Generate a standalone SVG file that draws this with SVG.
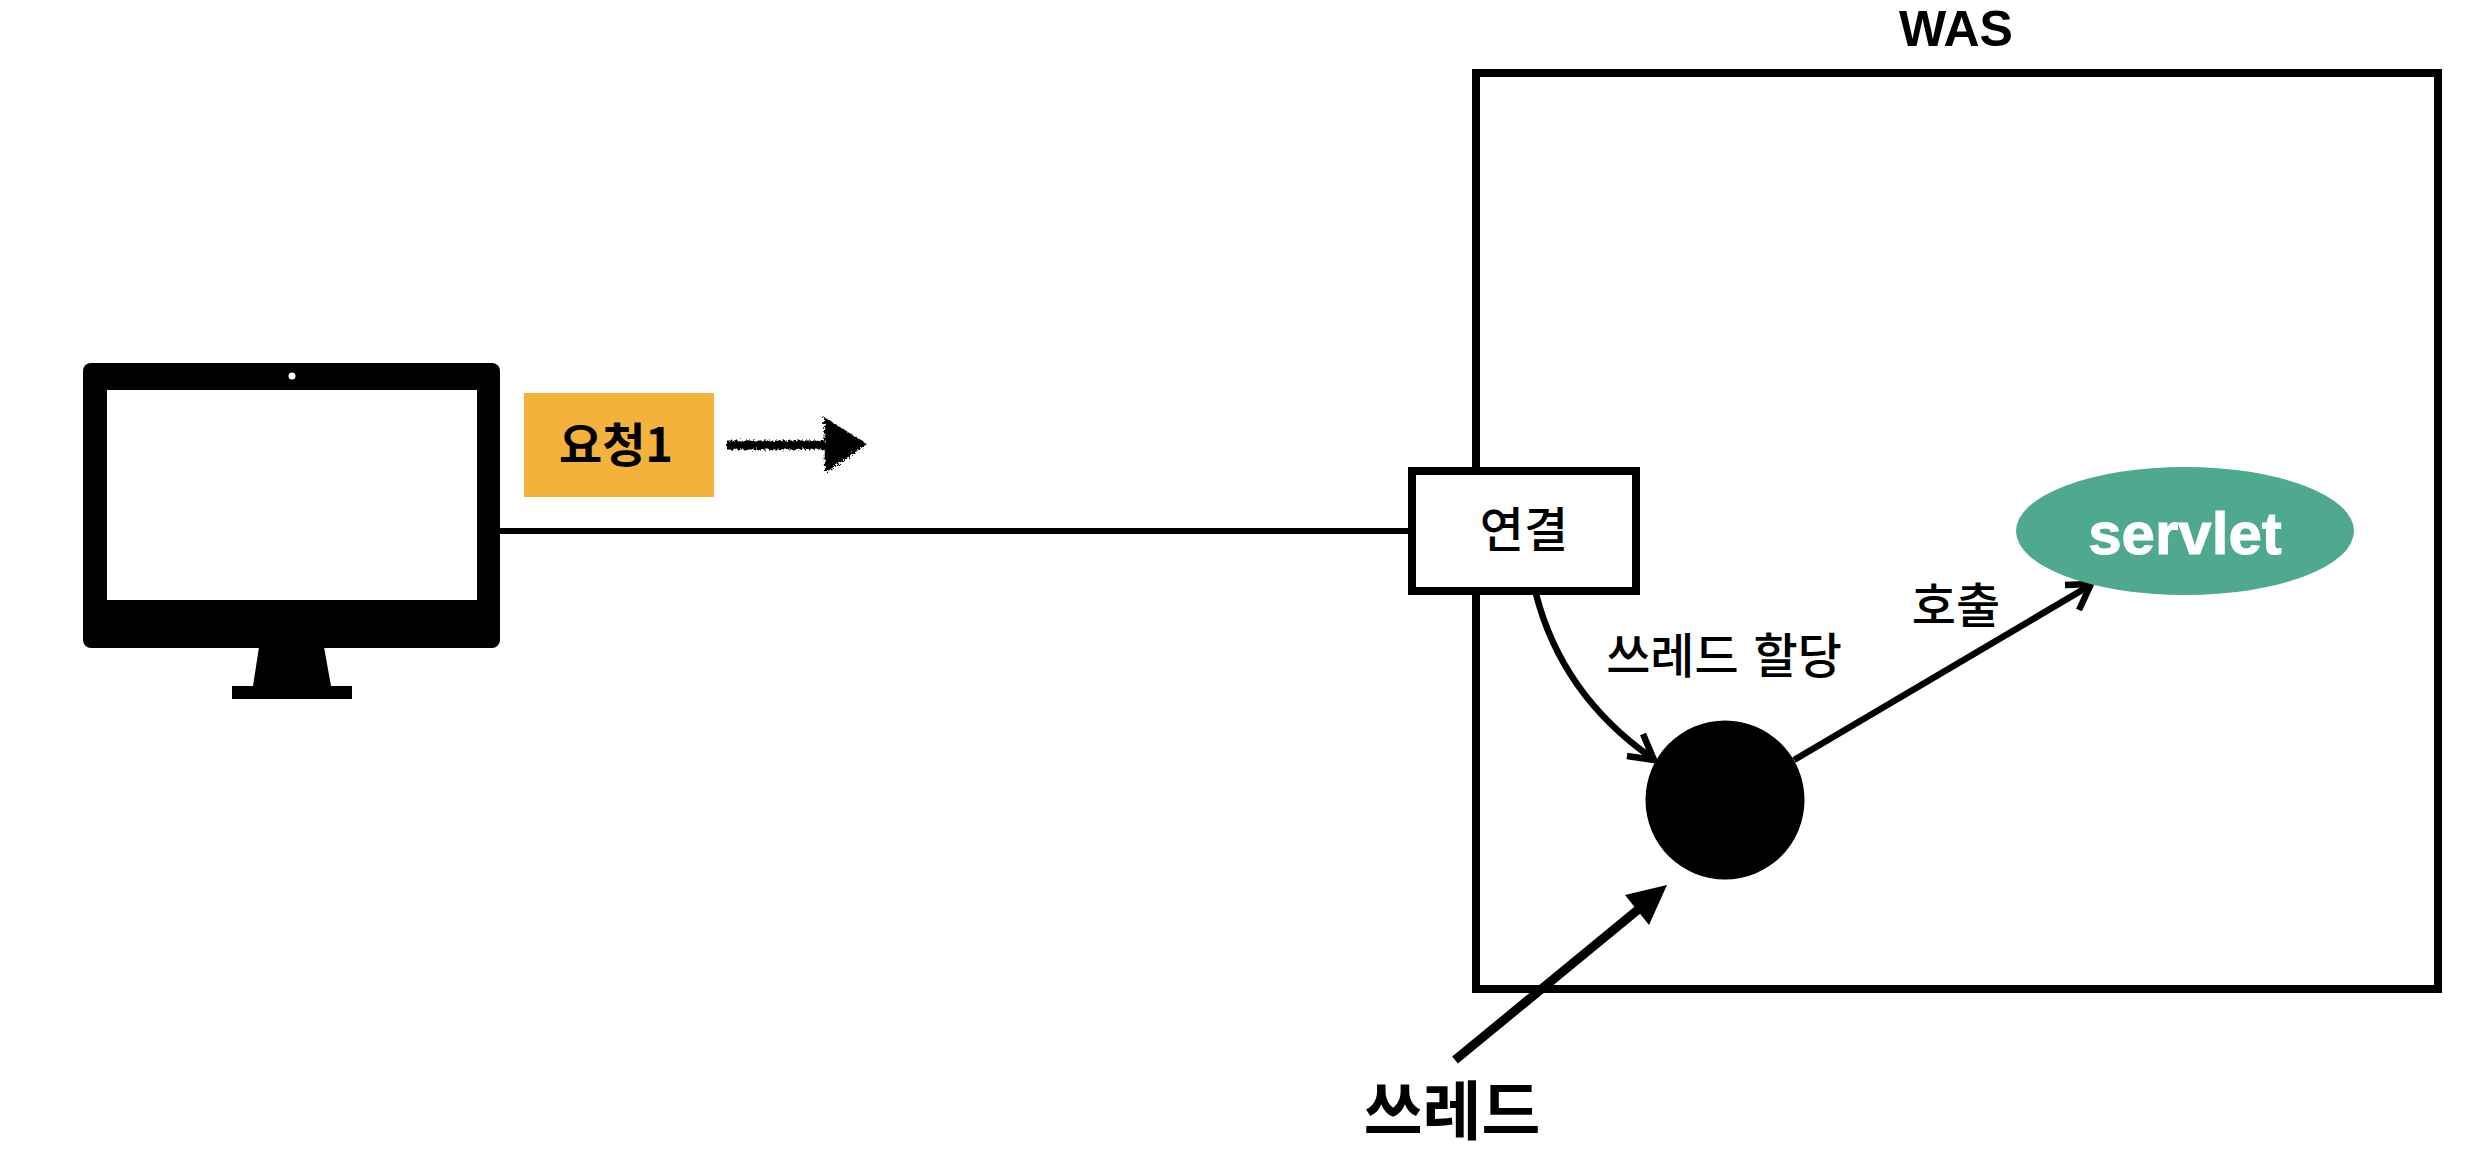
<svg xmlns="http://www.w3.org/2000/svg" width="2474" height="1176" viewBox="0 0 2474 1176">
<style>
text{font-family:"Liberation Sans","Noto Sans CJK KR",sans-serif;text-anchor:middle;fill:#000}
.ko{font-family:"Noto Sans CJK KR","Liberation Sans",sans-serif;font-size:48px;font-weight:500}
.b{font-weight:700}
.ln{fill:none;stroke:#000}
</style>
<defs>
<filter id="rough" x="-10%" y="-20%" width="120%" height="140%">
<feTurbulence type="fractalNoise" baseFrequency="0.45" numOctaves="2" seed="4" result="n"/>
<feDisplacementMap in="SourceGraphic" in2="n" scale="6"/>
</filter>
</defs>
<rect width="2474" height="1176" fill="#fff"/>
<g id="was">
<rect x="1476" y="73" width="962" height="916" fill="none" stroke="#000" stroke-width="8"/>
<text x="1956" y="46" class="b" font-size="50">WAS</text>
</g>
<g id="connectors">
<line class="ln" x1="498" y1="531" x2="1412" y2="531" stroke-width="6"/>
<path class="ln" stroke-width="6.5" d="M1536 594Q1562 695 1652 758"/>
<path class="ln" stroke-width="6.5" d="M1643 734L1654 760L1627 756"/>
<line class="ln" x1="1794" y1="760" x2="2089" y2="586" stroke-width="6.5"/>
<path class="ln" stroke-width="6.5" d="M2065 585L2091 584L2079 610"/>
<line class="ln" x1="1455" y1="1060" x2="1640" y2="908" stroke-width="9"/>
<polygon points="1667,885 1649,925 1625,895"/>
</g>
<g id="client">
<rect x="83" y="363" width="417" height="285" rx="8"/>
<rect x="107" y="390" width="370" height="210" fill="#fff"/>
<circle cx="292" cy="376" r="3.5" fill="#fff"/>
<path d="M259 647H324L331 686H352V699H232V686H253Z"/>
</g>
<g id="request">
<rect x="524" y="393" width="190" height="104" fill="#F3B23C"/>
<text x="616" y="462" class="ko" style="font-size:47px;font-weight:700">요청1</text>
</g>
<g id="request-arrow" filter="url(#rough)">
<line x1="727" y1="445" x2="825" y2="445" stroke="#000" stroke-width="9"/>
<polygon points="824,417 867,444 825,473"/>
</g>
<g id="connection">
<rect x="1412" y="471" width="224" height="120" fill="#fff" stroke="#000" stroke-width="8"/>
<text x="1524" y="547" class="ko">연결</text>
</g>
<g id="servlet">
<ellipse cx="2185" cy="531" rx="169" ry="64" fill="#4FA98F"/>
<text x="2185" y="554" class="b" font-size="60" stroke="#fff" stroke-width="1" style="fill:#fff">servlet</text>
</g>
<g id="thread"><circle cx="1725" cy="800" r="79.5"/></g>
<g id="labels">
<text x="1724" y="673" class="ko" word-spacing="4">쓰레드 할당</text>
<text x="1956" y="623" class="ko">호출</text>
<text x="1452" y="1134" class="ko" style="font-size:64px;font-weight:700">쓰레드</text>
</g>
</svg>
